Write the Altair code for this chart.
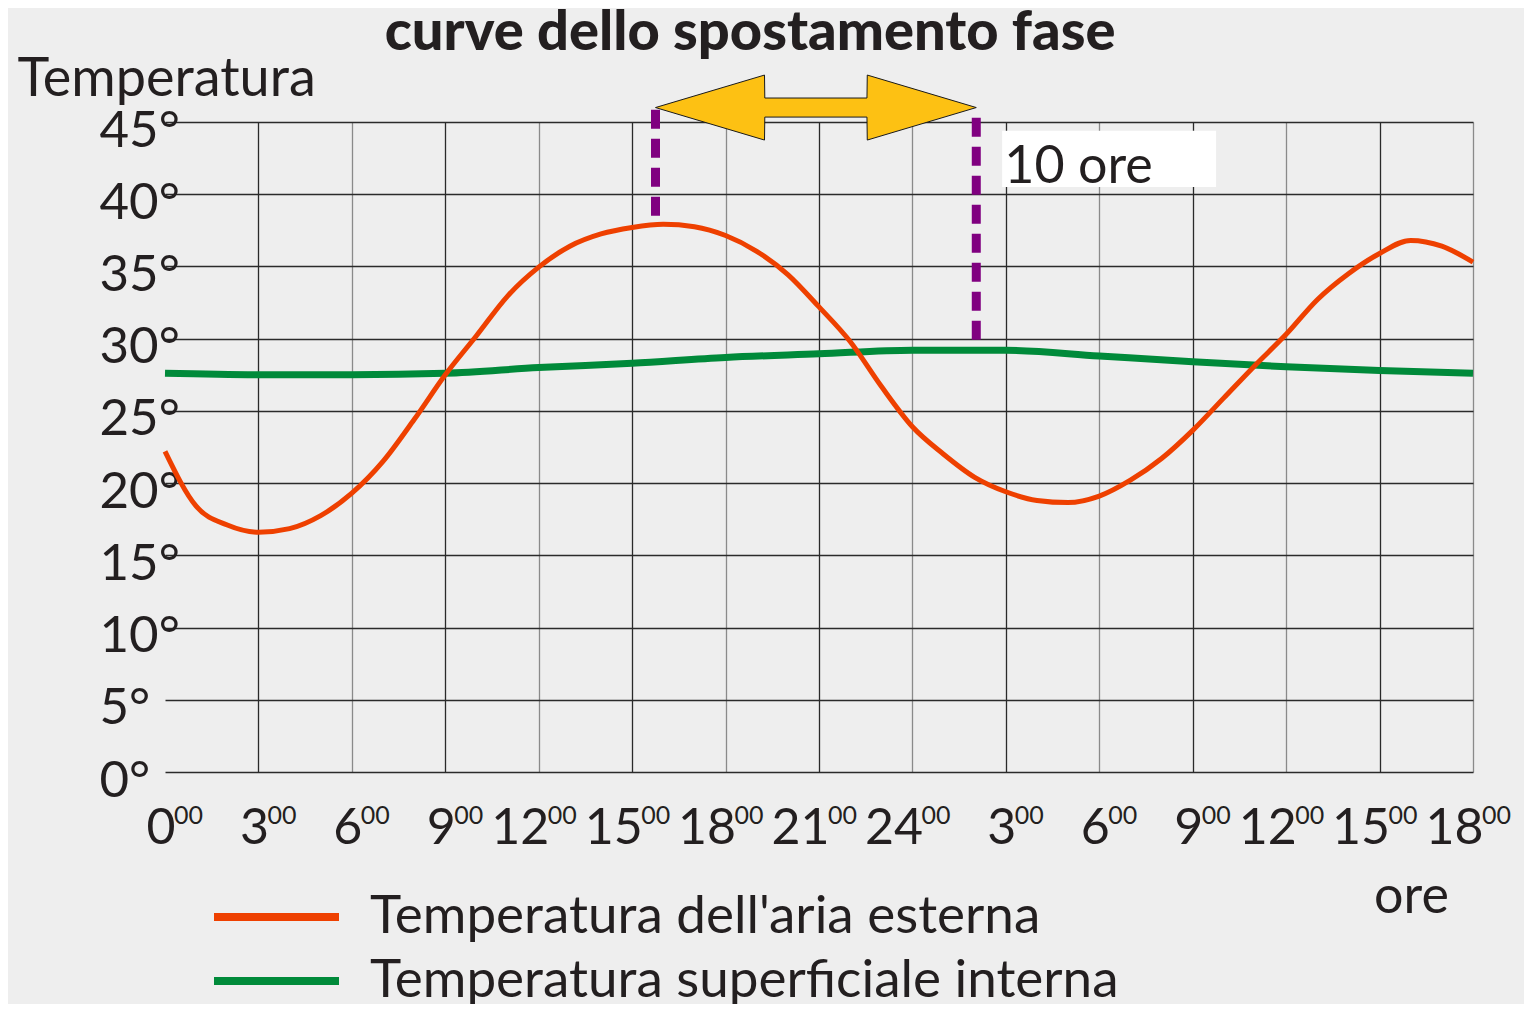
import json
import altair as alt
import pandas as pd

# ---------------- data ----------------
hours_out = list(range(43))
temp_out = [22.2, 18.4, 17.1, 16.6, 16.85, 17.75, 19.3, 21.5, 24.4, 27.5,
            30.2, 32.95, 34.95, 36.4, 37.25, 37.7, 37.92, 37.75, 37.14, 36.05,
            34.44, 32.2, 29.8, 26.7, 23.9, 22.0, 20.4, 19.4, 18.8, 18.65,
            19.1, 20.2, 21.7, 23.65, 25.9, 28.15, 30.3, 32.7, 34.5, 35.9,
            36.8, 36.4, 35.3]

hours_in = list(range(0, 43, 3))
temp_in = [27.6, 27.5, 27.5, 27.6, 28.0, 28.3, 28.7, 28.95, 29.2, 29.2,
           28.8, 28.4, 28.05, 27.8, 27.6]

tick_values = list(range(0, 43, 3))
tick_labels = ["0", "3", "6", "9", "12", "15", "18", "21",
               "24", "3", "6", "9", "12", "15", "18"]
tick_super = "00"
y_ticks = list(range(0, 46, 5))

series_names = ["Temperatura dell'aria esterna", "Temperatura superficiale interna"]
series_colors = ["#ee4000", "#008a3a"]

peak_hours = [15.75, 26.05]      # max of outside air, max of inside surface
peak_temps = [38.1, 29.3]
shift_label = "10 ore"

title_text = "curve dello spostamento fase"
y_title = "Temperatura"
x_title = "ore"

# ---------------- styling ----------------
FONT = "Lato"
TXT = "#231f20"
BG = "#eeeeee"

df_out = pd.DataFrame({"ora": hours_out, "temp": temp_out, "serie": series_names[0]})
df_in = pd.DataFrame({"ora": hours_in, "temp": temp_in, "serie": series_names[1]})

x_scale = alt.Scale(domain=[0, 42], nice=False, zero=False)
y_scale = alt.Scale(domain=[0, 45], nice=False)
color_scale = alt.Scale(domain=series_names, range=series_colors)

label_js = json.dumps(tick_labels, ensure_ascii=False)

x_axis = alt.Axis(
    values=tick_values,
    labelExpr=f"{label_js}[round(datum.value / 3)]",
    labelFont=FONT, labelFontSize=50, labelColor=TXT, labelPadding=31,
    labelAlign="right", labelOffset=10,
    labelOverlap=False, labelFlush=False, labelBound=False,
    ticks=False, tickSize=0, domain=False,
    grid=True, gridWidth=1.3,
    gridColor={"condition": {"test": "datum.value % 6 === 0", "value": "#8a8a8a"},
               "value": "#2a2a2a"},
    gridOpacity={"condition": {"test": "datum.value === 0", "value": 0}, "value": 1},
    title=x_title, titleFont=FONT, titleFontSize=52, titleFontWeight="normal",
    titleColor=TXT, titleX=1246, titleY=140, titleAlign="center",
    titleBaseline="alphabetic",
)

y_axis = alt.Axis(
    values=y_ticks,
    labelExpr="datum.value + '°'",
    labelFont=FONT, labelFontSize=51, labelColor=TXT,
    labelAlign="left", labelPadding=66, labelBaseline="middle", labelOffset=9,
    labelOverlap=False, labelFlush=False, labelBound=False,
    ticks=False, tickSize=0, domain=False,
    grid=True, gridWidth=1.3, gridColor="#2a2a2a",
    title=y_title, titleFont=FONT, titleFontSize=54, titleFontWeight="normal",
    titleColor=TXT, titleAngle=0, titleAlign="left", titleBaseline="alphabetic",
    titleX=-148, titleY=-27,
)

legend = alt.Legend(
    orient="none", legendX=82.5, legendY=766, title=None, padding=0,
    direction="vertical", symbolType="M-2.5,0H2.5", symbolSize=2500,
    symbolStrokeWidth=8, labelFont=FONT, labelFontSize=53, labelColor=TXT,
    labelOffset=64.5, rowPadding=8, labelLimit=2000,
)

green = alt.Chart(df_in).mark_line(strokeWidth=7, interpolate="monotone").encode(
    x=alt.X("ora:Q", scale=x_scale, axis=x_axis),
    y=alt.Y("temp:Q", scale=y_scale, axis=y_axis),
    color=alt.Color("serie:N", scale=color_scale, legend=legend),
)

orange = alt.Chart(df_out).mark_line(strokeWidth=5, interpolate="monotone").encode(
    x=alt.X("ora:Q", scale=x_scale),
    y=alt.Y("temp:Q", scale=y_scale),
    color=alt.Color("serie:N", scale=color_scale, legend=legend),
)

# superscript "00" next to every hour label
df_sup = pd.DataFrame({"ora": tick_values, "t": [tick_super] * len(tick_values)})
sup = alt.Chart(df_sup).mark_text(
    align="left", baseline="top", font=FONT, fontSize=25, color=TXT, dx=9, dy=32
).encode(x="ora:Q", y=alt.datum(0), text="t:N")

# purple dashed markers of the two maxima
arrow_y = 46.0
df_rules = pd.DataFrame({
    "ora": peak_hours,
    "top": [45.85, 45.3],
    "bottom": peak_temps,
})
rules = alt.Chart(df_rules).mark_rule(
    color="#800080", strokeWidth=9, strokeDash=[19, 10], strokeCap="butt"
).encode(x="ora:Q", y="top:Q", y2="bottom:Q")

# double-headed arrow between the two maxima
head_len = 3.5
head_half = 2.25
shaft_half = 0.66
h0, h1 = peak_hours
eps = 0.01
df_arrow = pd.DataFrame({
    "ora": [h0, h0 + head_len, h0 + head_len + eps, h1 - head_len - eps, h1 - head_len, h1],
    "lo": [arrow_y, arrow_y - head_half, arrow_y - shaft_half, arrow_y - shaft_half,
           arrow_y - head_half, arrow_y],
    "hi": [arrow_y, arrow_y + head_half, arrow_y + shaft_half, arrow_y + shaft_half,
           arrow_y + head_half, arrow_y],
})
arrow = alt.Chart(df_arrow).mark_area(
    color="#fdc113", stroke="#1a1a1a", strokeWidth=1, opacity=1
).encode(x="ora:Q", y="lo:Q", y2="hi:Q")

# "10 ore" label box
df_box = pd.DataFrame({"x": [26.88], "x2": [33.75], "y": [44.4], "y2": [40.5]})
box = alt.Chart(df_box).mark_rect(color="white").encode(
    x="x:Q", x2="x2:Q", y="y:Q", y2="y2:Q"
)
df_lab = pd.DataFrame({"x": [26.95], "y": [40.8], "t": [shift_label]})
lab = alt.Chart(df_lab).mark_text(
    align="left", baseline="alphabetic", font=FONT, fontSize=52, color=TXT
).encode(x="x:Q", y="y:Q", text="t:N")

# chart title (placed above the arrow)
df_title = pd.DataFrame({"x": [18.79], "y": [50.0], "t": [title_text]})
title = alt.Chart(df_title).mark_text(
    align="center", baseline="alphabetic", font=FONT, fontSize=56,
    fontWeight=900, color=TXT
).encode(x="x:Q", y="y:Q", text="t:N")

chart = alt.layer(green, orange, rules, arrow, box, lab, sup, title).properties(
    width=1308,
    height=650,
    autosize=alt.AutoSizeParams(type="none"),
    padding={"left": 157, "top": 114, "right": 51, "bottom": 232},
    background=BG,
).configure_view(stroke=None)

chart.save("out.html", embed_options={"renderer": "svg", "actions": False})
